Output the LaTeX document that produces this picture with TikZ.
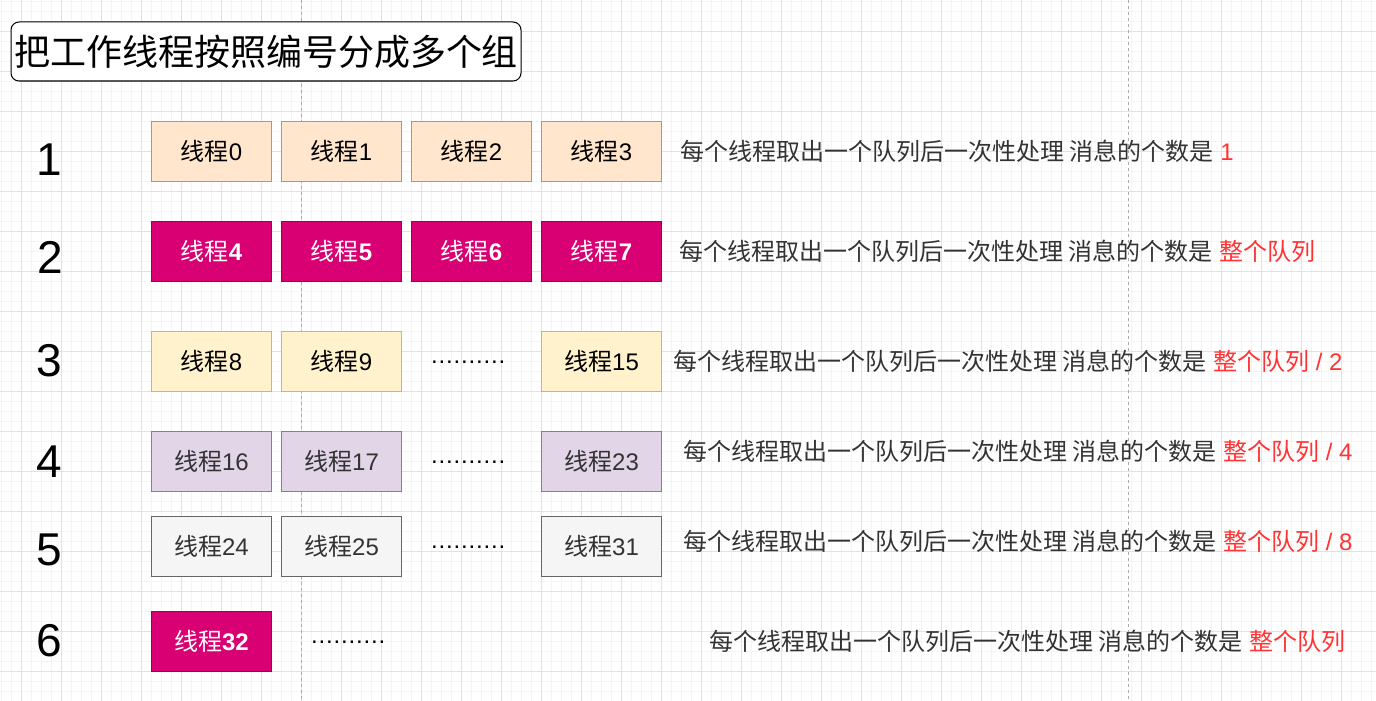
\documentclass[tikz,border=0pt]{standalone}
\usepackage{fontspec}
\usepackage{xcolor}
\usepackage{tikz}
\usetikzlibrary{positioning}
\setmainfont{Liberation Sans}
\newfontfamily\cjk{Noto Sans CJK SC}
\definecolor{peach}{HTML}{FFE6CC}
\definecolor{peachline}{HTML}{D79B00}
\definecolor{rosefill}{HTML}{D80073}
\definecolor{roseline}{HTML}{A50040}
\definecolor{cream}{HTML}{FFF2CC}
\definecolor{creamline}{HTML}{D6B656}
\definecolor{lilac}{HTML}{E1D5E7}
\definecolor{lilacline}{HTML}{9673A6}
\definecolor{ash}{HTML}{F5F5F5}
\definecolor{ashline}{HTML}{666666}
\definecolor{inkgray}{HTML}{333333}
\definecolor{hint}{HTML}{FF3333}
\definecolor{gridmajor}{HTML}{E2E2E2}
\definecolor{gridminor}{HTML}{F4F4F4}
\definecolor{pagebreak}{HTML}{ABABAB}
\newcommand{\zh}[1]{{\cjk\mdseries #1}}
\newcommand{\dotrun}{\makebox[74pt][s]{.\hfill.\hfill.\hfill.\hfill.\hfill.\hfill.\hfill.\hfill.\hfill.}}

\begin{document}
\begin{tikzpicture}[
        x=1pt, y=-1pt,
        node distance=10pt,
        minorgrid/.style={gridminor, line width=1pt},
        majorgrid/.style={gridmajor, line width=1pt},
        pageline/.style={pagebreak, line width=1pt, dash pattern=on 3pt off 3pt},
        thread/.style={draw, line width=1pt, minimum width=120pt, minimum height=60pt,
                       inner sep=0pt, outer sep=0pt, font=\fontsize{24}{28}\selectfont},
        grpA/.style={thread, fill=peach, draw=peachline, text=black},
        grpB/.style={thread, fill=rosefill, draw=roseline, text=white, font=\fontsize{24}{28}\selectfont\bfseries},
        grpC/.style={thread, fill=cream, draw=creamline, text=black},
        grpD/.style={thread, fill=lilac, draw=lilacline, text=inkgray},
        grpE/.style={thread, fill=ash, draw=ashline, text=inkgray},
        rownum/.style={inner sep=0pt, font=\fontsize{46}{50}\selectfont},
        rule/.style={anchor=west, inner sep=0pt, text=inkgray, font=\fontsize{24}{28}\selectfont},
        dots/.style={anchor=base west, inner sep=0pt, font=\fontsize{24}{28}\selectfont},
    ]
        \useasboundingbox (0,0) rectangle (1376,701);
        \fill[white] (0,0) rectangle (1376,701);

        % background grid
        \foreach \gx in {1.5,11.5,...,1371.5} \draw[minorgrid] (\gx,0) -- (\gx,701);
        \foreach \gy in {1.5,11.5,...,691.5} \draw[minorgrid] (0,\gy) -- (1376,\gy);
        \foreach \gx in {21.5,61.5,...,1361.5} \draw[majorgrid] (\gx,0) -- (\gx,701);
        \foreach \gy in {31.5,71.5,...,671.5} \draw[majorgrid] (0,\gy) -- (1376,\gy);
        \draw[pageline] (301.5,0) -- (301.5,701);
        \draw[pageline] (1128.5,0) -- (1128.5,701);

        \node[draw, fill=white, rounded corners=8pt, line width=1pt, minimum width=510pt,
              minimum height=59pt, inner sep=0pt, font=\fontsize{36}{40}\selectfont]
              (title) at (266,51.5) {\zh{把工作线程按照编号分成多个组}};

        % row 1
        \node[rownum] (n1) at (49,160) {1};
        \node[grpA] (t0) at (211.5,151.5) {\zh{线程}0};
        \node[grpA, right=of t0] (t1) {\zh{线程}1};
        \node[grpA, right=of t1] (t2) {\zh{线程}2};
        \node[grpA, right=of t2] (t3) {\zh{线程}3};
        \node[rule] (r1) at (680,151.5) {\zh{每个线程取出一个队列后一次性处理 消息的个数是} \textcolor{hint}{1}};

        % row 2
        \node[rownum] (n2) at (50,257) {2};
        \node[grpB] (t4) at (211.5,251.5) {\zh{线程}4};
        \node[grpB, right=of t4] (t5) {\zh{线程}5};
        \node[grpB, right=of t5] (t6) {\zh{线程}6};
        \node[grpB, right=of t6] (t7) {\zh{线程}7};
        \node[rule] (r2) at (679,251.5) {\zh{每个线程取出一个队列后一次性处理 消息的个数是} \textcolor{hint}{\zh{整个队列}}};

        % row 3
        \node[rownum] (n3) at (49,361) {3};
        \node[grpC] (t8) at (211.5,361.5) {\zh{线程}8};
        \node[grpC, right=of t8] (t9) {\zh{线程}9};
        \node[grpC, right=140pt of t9] (t15) {\zh{线程}15};
        \node[dots] (d3) at (431,363) {\dotrun};
        \node[rule] (r3) at (673,361.5) {\zh{每个线程取出一个队列后一次性处理 消息的个数是} \textcolor{hint}{\zh{整个队列} / 2}};

        % row 4
        \node[rownum] (n4) at (49,462) {4};
        \node[grpD] (t16) at (211.5,461.5) {\zh{线程}16};
        \node[grpD, right=of t16] (t17) {\zh{线程}17};
        \node[grpD, right=140pt of t17] (t23) {\zh{线程}23};
        \node[dots] (d4) at (431,463) {\dotrun};
        \node[rule] (r4) at (683,451.5) {\zh{每个线程取出一个队列后一次性处理 消息的个数是} \textcolor{hint}{\zh{整个队列} / 4}};

        % row 5
        \node[rownum] (n5) at (49,550) {5};
        \node[grpE] (t24) at (211.5,546.5) {\zh{线程}24};
        \node[grpE, right=of t24] (t25) {\zh{线程}25};
        \node[grpE, right=140pt of t25] (t31) {\zh{线程}31};
        \node[dots] (d5) at (431,548) {\dotrun};
        \node[rule] (r5) at (683,541.5) {\zh{每个线程取出一个队列后一次性处理 消息的个数是} \textcolor{hint}{\zh{整个队列} / 8}};

        % row 6
        \node[rownum] (n6) at (49,641) {6};
        \node[grpB] (t32) at (211.5,641.5) {\zh{线程}32};
        \node[dots] (d6) at (311,643) {\dotrun};
        \node[rule] (r6) at (709,641.5) {\zh{每个线程取出一个队列后一次性处理 消息的个数是} \textcolor{hint}{\zh{整个队列}}};
    \end{tikzpicture}
\end{document}
